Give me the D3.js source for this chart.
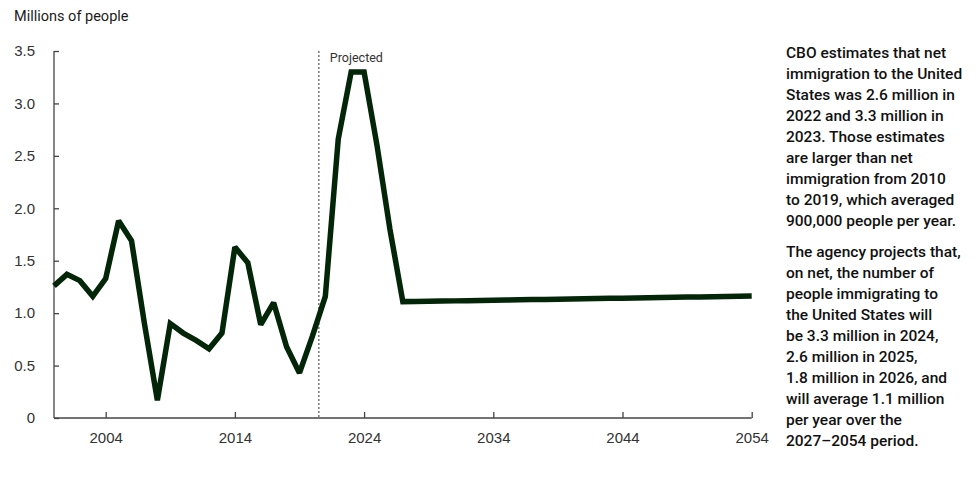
<!DOCTYPE html>
<html><head><meta charset="utf-8">
<script src="https://cdn.jsdelivr.net/npm/d3@7"></script>
<style>
body{margin:0;background:#fff;}
svg{display:block;font-family:Roboto, "Liberation Sans", sans-serif;}
</style></head>
<body><svg id="c" width="979" height="480"></svg>
<script>
const years = d3.range(2000, 2055);
const historical = [1.26,1.37,1.31,1.16,1.33,1.88,1.69,0.90,0.17,0.90,0.81,0.74,0.66,0.81,1.63,1.48,0.89,1.10,0.68,0.43,0.78,1.16,2.66,3.30];
const projected = [3.30,2.60,1.80,1.110,1.112,1.114,1.116,1.117,1.119,1.121,1.123,1.125,1.127,1.129,1.131,1.133,1.135,1.137,1.139,1.141,1.143,1.145,1.147,1.149,1.151,1.153,1.155,1.157,1.159,1.161,1.163];
const values = historical.concat(projected);
const yTicks = [0,0.5,1.0,1.5,2.0,2.5,3.0,3.5];
const xTicks = [2004,2014,2024,2034,2044,2054];
const projectionStart = 2020.5;
const yTitle = "Millions of people";
const projLabel = "Projected";
const para1 = ["CBO estimates that net","immigration to the United","States was 2.6 million in","2022 and 3.3 million in","2023. Those estimates","are larger than net","immigration from 2010","to 2019, which averaged","900,000 people per year."];
const para2 = ["The agency projects that,","on net, the number of","people immigrating to","the United States will","be 3.3 million in 2024,","2.6 million in 2025,","1.8 million in 2026, and","will average 1.1 million","per year over the","2027\u20132054 period."];

const svg = d3.select("#c");
const x = d3.scaleLinear().domain([2000, 2054]).range([54, 751.7]);
const y = d3.scaleLinear().domain([0, 3.5]).range([418, 51]);
const axisColor = "#444";

svg.append("text").attr("x",14).attr("y",21).attr("font-size",14.5).attr("fill","#1a1a1a").text(yTitle);

// y axis
const ya = svg.append("g").attr("transform","translate(54,0)")
  .call(d3.axisRight(y).tickValues(yTicks).tickSize(5).tickFormat(d => d===0 ? "0" : d3.format(".1f")(d)));
ya.select(".domain").attr("stroke",axisColor).attr("stroke-width",1.3).attr("d","M0,"+y(3.5)+"V"+y(0));
ya.selectAll(".tick line").attr("stroke",axisColor).attr("stroke-width",1.3);
ya.selectAll(".tick text").attr("x",-19).attr("text-anchor","end").attr("font-size",15).attr("fill","#333");

// x axis
const xa = svg.append("g").attr("transform","translate(0,418)")
  .call(d3.axisTop(x).tickValues(xTicks).tickSize(6).tickFormat(d3.format("d")));
xa.select(".domain").attr("stroke",axisColor).attr("stroke-width",1.3).attr("d","M"+x(2000)+",0H"+x(2054));
xa.selectAll(".tick line").attr("stroke",axisColor).attr("stroke-width",1.3);
xa.selectAll(".tick text").attr("y",25).attr("dy",0).attr("font-size",15).attr("fill","#333");

// projection divider
svg.append("line").attr("x1",x(projectionStart)).attr("x2",x(projectionStart))
  .attr("y1",y(3.5)).attr("y2",y(0)).attr("stroke","#333").attr("stroke-width",1).attr("stroke-dasharray","2,2");
svg.append("text").attr("x",x(projectionStart)+11).attr("y",62).attr("font-size",12.5).attr("fill","#333").text(projLabel);

// line
const line = d3.line().x((d,i)=>x(years[i])).y(d=>y(d));
svg.append("path").datum(values).attr("d",line).attr("fill","none")
  .attr("stroke","#032508").attr("stroke-width",5.5).attr("stroke-linejoin","miter").attr("stroke-miterlimit",2);

// annotation
const tx = 786;
const g = svg.append("g").attr("font-size",15.5).attr("font-weight",500).attr("fill","#111");
para1.forEach((t,i)=>g.append("text").attr("x",tx).attr("y",58+i*21).text(t));
para2.forEach((t,i)=>g.append("text").attr("x",tx).attr("y",257+i*21).text(t));
</script></body></html>
